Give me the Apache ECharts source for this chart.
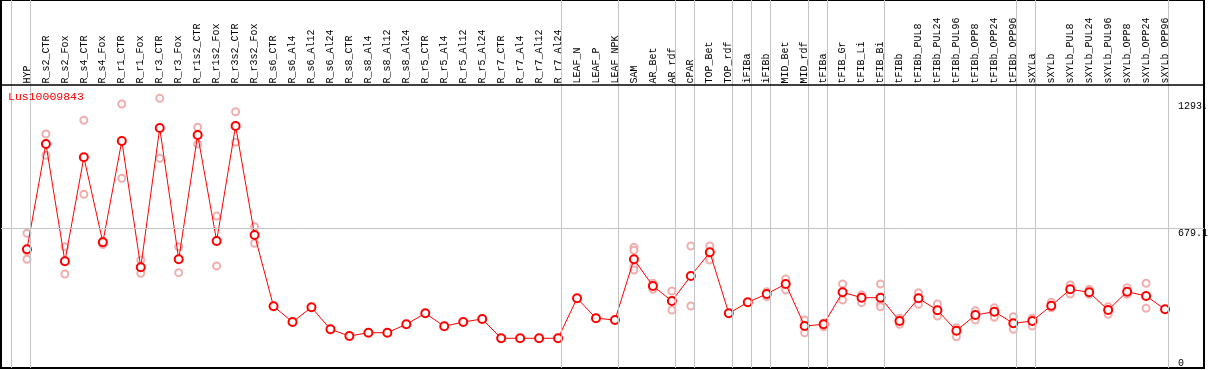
<!DOCTYPE html>
<html>
<head>
<meta charset="utf-8">
<script src="https://cdn.jsdelivr.net/npm/echarts@6/dist/echarts.min.js"></script>
<style>
html,body{margin:0;padding:0;background:#fff;}
#chart{width:1209px;height:370px;}
</style>
</head>
<body>
<div id="chart"></div>
<script>
const geneName = 'Lus10009843';

const categories = [
  'HYP','R_s2_CTR','R_s2_Fox','R_s4_CTR','R_s4_Fox','R_r1_CTR','R_r1_Fox','R_r3_CTR','R_r3_Fox',
  'R_r1s2_CTR','R_r1s2_Fox','R_r3s2_CTR','R_r3s2_Fox',
  'R_s6_CTR','R_s6_Al4','R_s6_Al12','R_s6_Al24','R_s8_CTR','R_s8_Al4','R_s8_Al12','R_s8_Al24',
  'R_r5_CTR','R_r5_Al4','R_r5_Al12','R_r5_Al24','R_r7_CTR','R_r7_Al4','R_r7_Al12','R_r7_Al24',
  'LEAF_N','LEAF_P','LEAF_NPK','SAM','AR_Bet','AR_rdf','cPAR','TOP_Bet','TOP_rdf','iFIBa','iFIBb',
  'MID_Bet','MID_rdf','tFIBa','tFIB_Gr','tFIB_Li','tFIB_Bi',
  'tFIBb','tFIBb_PUL8','tFIBb_PUL24','tFIBb_PUL96','tFIBb_OPP8','tFIBb_OPP24','tFIBb_OPP96',
  'sXYLa','sXYLb','sXYLb_PUL8','sXYLb_PUL24','sXYLb_PUL96','sXYLb_OPP8','sXYLb_OPP24','sXYLb_OPP96'
];

const meanValues = [
  575.8, 1086.6, 517.6, 1022.0, 609.7, 1101.1, 488.5, 1164.2, 527.3,
  1130.2, 616.0, 1173.9, 645.1,
  299.3, 223.1, 294.4, 187.7, 155.2, 171.2, 171.2, 212.0,
  265.3, 202.3, 223.1, 237.7, 144.1, 144.1, 144.1, 144.1,
  338.1, 241.6, 232.8, 527.3, 397.8, 325.0, 446.3, 561.2, 265.3, 318.7, 359.0,
  407.5, 203.7, 212.0, 367.2, 341.0, 341.0,
  228.0, 338.1, 279.9, 180.9, 257.1, 273.1, 216.8,
  228.0, 302.2, 381.7, 367.2, 281.3, 370.1, 349.3, 284.7
];

const replicateValues = [
  [653.4, 567.5, 527.3], [1135.1, 1031.7], [588.4, 456.0], [1201.5, 842.6], [616.0, 599.1],
  [1280.6, 920.2], [523.9, 459.4], [1308.2, 1017.2], [588.4, 462.3],
  [1167.6, 1086.6], [737.3, 494.8], [1243.2, 1094.8], [685.4, 604.9],
  [], [], [], [], [], [], [], [],
  [], [], [], [], [], [], [], [],
  [], [], [], [585.5, 570.9, 491.4, 475.4], [410.9, 381.7], [373.5, 281.3], [591.8, 300.7],
  [591.8, 523.9], [], [], [370.1, 345.9],
  [431.7, 378.4], [232.8, 171.2], [216.8, 200.3], [407.5, 329.8], [354.1, 316.8], [407.5, 309.0, 297.3],
  [241.1, 212.0], [365.3, 309.0], [310.4, 252.2], [195.5, 151.8], [277.9, 232.8], [292.5, 245.9], [248.8, 187.7],
  [241.1, 203.7], [318.7, 292.5], [402.6, 359.0], [381.7, 357.5], [297.3, 260.5], [389.5, 357.5], [410.9, 289.6], []
];

// index of the last category of each group (-1 = before the first)
const groupEnds = [-1, 0, 28, 31, 34, 35, 37, 38, 39, 41, 42, 45, 52, 53, 60];

const yTickValues = [0, 679.1, 1293];
const yTickLabels = ['0', '679.1', '1293.'];

const meanData = meanValues.map((v, i) => [i, v]);
const repData = [];
replicateValues.forEach((arr, i) => arr.forEach(v => repData.push([i, v])));

const PX = 19;           // px per category
const FIRST = 27;        // px of first point
const GL = 1, GW = 1205; // grid left / width
const GH = 368;          // grid height
const HEADER = 85;       // height of the label band at the top
const Y_MAX = 1785;
const xMin = (GL - FIRST) / PX;
const xMax = xMin + GW / PX;
const headerValue = Y_MAX * (GH - HEADER) / GH;
const labelFor = v => { const k = yTickValues.indexOf(v); return k >= 0 ? yTickLabels[k] : String(v); };
const monoFont = 'Liberation Mono';
const gridColor = '#c4c4c4';

const chart = echarts.init(document.getElementById('chart'), null, {renderer: 'canvas'});
chart.setOption({
  animation: false,
  backgroundColor: '#fff',
  title: {
    text: geneName, left: 8, top: 91, padding: 0,
    textStyle: {color: '#ff0000', fontFamily: monoFont, fontSize: 11.5, fontWeight: 'normal'}
  },
  grid: {left: GL, top: 0, width: GW, height: GH, show: true, borderColor: '#000', borderWidth: 2, backgroundColor: '#fff'},
  xAxis: [{
    type: 'value', min: xMin, max: xMax, position: 'top', offset: -HEADER,
    axisLine: {show: false},
    axisTick: {show: false}, splitLine: {show: false},
    axisLabel: {
      show: true, rotate: 90, margin: 1.5, padding: [0, 0, 3, 0],
      fontFamily: monoFont, fontSize: 10, color: '#000',
      customValues: categories.map((c, i) => i),
      formatter: v => categories[Math.round(v)] || ''
    }
  }],
  yAxis: [{
    type: 'value', min: 0, max: Y_MAX, position: 'left', offset: -1177,
    axisLine: {show: false}, axisTick: {show: false}, splitLine: {show: false},
    axisLabel: {show: true, inside: true, margin: 0, verticalAlign: 'top', fontFamily: monoFont, fontSize: 10, color: '#000',
      customValues: yTickValues.slice(1), formatter: labelFor}
  }, {
    type: 'value', min: 0, max: Y_MAX, position: 'left', offset: -1177,
    axisLine: {show: false}, axisTick: {show: false}, splitLine: {show: false},
    axisLabel: {show: true, inside: true, margin: 0, verticalAlign: 'bottom', fontFamily: monoFont, fontSize: 10, color: '#000',
      customValues: yTickValues.slice(0, 1), formatter: labelFor}
  }],
  series: [{
    type: 'scatter', name: 'replicates', data: repData, z: 2,
    symbol: 'emptyCircle', symbolSize: 7,
    itemStyle: {color: '#ee9a9a', borderColor: '#ee9a9a', borderWidth: 1.2},
    markLine: {
      silent: true, symbol: 'none', label: {show: false}, animation: false,
      lineStyle: {color: gridColor, width: 1, type: 'solid'},
      data: groupEnds.map(g => ({xAxis: g + 0.18}))
    }
  }, {
    type: 'line', name: geneName, data: meanData, z: 3,
    symbol: 'emptyCircle', symbolSize: 8, showSymbol: true,
    lineStyle: {color: '#ff0000', width: 1},
    itemStyle: {color: '#ff0000', borderColor: '#ff0000', borderWidth: 1.3},
    markLine: {
      silent: true, symbol: 'none', label: {show: false}, animation: false,
      data: [
        {yAxis: yTickValues[1], lineStyle: {color: gridColor, width: 1, type: 'solid'}},
        {yAxis: headerValue, lineStyle: {color: '#000', width: 1.5, type: 'solid'}}
      ]
    }
  }]
});
</script>
</body>
</html>
